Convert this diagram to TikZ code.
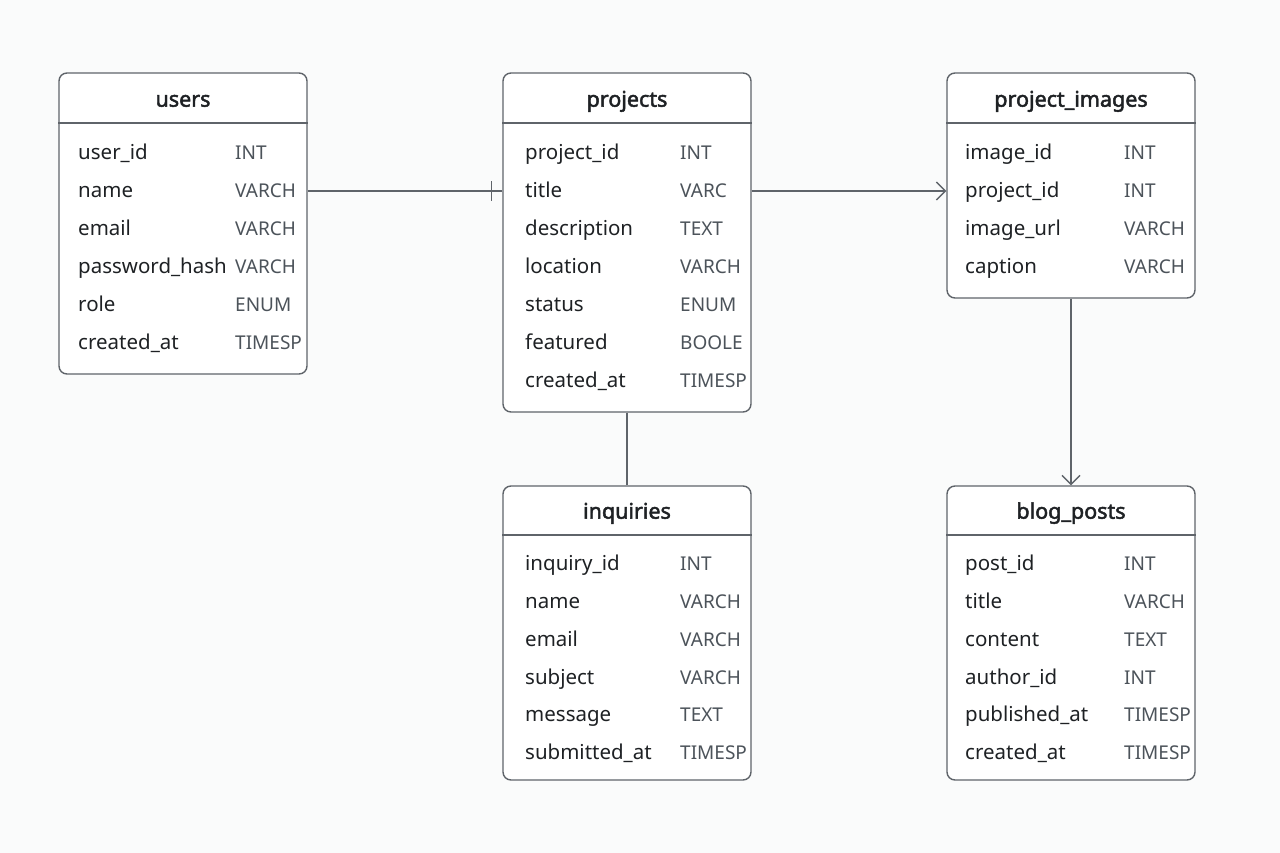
\documentclass[tikz,border=0pt]{standalone}
\usepackage{fontspec}
\setmainfont{Noto Sans}[AutoFakeBold=2.2]
\usetikzlibrary{arrows.meta}
\definecolor{bg}{HTML}{FAFBFB}
\definecolor{edge}{HTML}{5F646A}
\definecolor{ink}{HTML}{1E2124}
\definecolor{typeink}{HTML}{4C535A}
\begin{document}
\begin{tikzpicture}[x=1pt,y=-1pt,
  tbl/.style={draw=edge, line width=1.4pt, rounded corners=8pt, fill=white, minimum width=248pt, inner sep=0pt},
  ttl/.style={font=\fontsize{21.5}{24}\selectfont\bfseries, text=ink, inner sep=0pt, anchor=mid},
  fname/.style={font=\fontsize{20.5}{24}\selectfont, text=ink, inner sep=0pt, anchor=mid west},
  ftype/.style={font=\fontsize{19}{22}\selectfont, text=typeink, inner sep=0pt, anchor=mid west},
  rule/.style={draw=edge, line width=1.2pt},
  link/.style={draw=edge, line width=1.4pt},
  chev/.style={-{Straight Barb[length=9pt, width=18pt, line width=1.4pt]}}
]
\fill[bg] (0,0) rectangle (1280,853);
\useasboundingbox (0,0) rectangle (1280,853);

% ---- users ----
\node[tbl, minimum height=301pt] (users) at (183,223.5) {};
\node[ttl] (users-title) at (183,104) {users};
\draw[rule] (users.west |- 0,123) -- (users.east |- 0,123);
\foreach \n/\t [count=\i] in {user\_id/INT, name/VARCH, email/VARCH, password\_hash/VARCH, role/ENUM, created\_at/TIMESP}{
  \node[fname] (users-\i) at (78,{157+38*(\i-1)}) {\n};
  \node[ftype] (users-\i-t) at (235,{157+38*(\i-1)}) {\t};
}

% ---- projects ----
\node[tbl, minimum height=339pt] (projects) at (627,242.5) {};
\node[ttl] (projects-title) at (627,104) {projects};
\draw[rule] (projects.west |- 0,123) -- (projects.east |- 0,123);
\foreach \n/\t [count=\i] in {project\_id/INT, title/VARC, description/TEXT, location/VARCH, status/ENUM, featured/BOOLE, created\_at/TIMESP}{
  \node[fname] (projects-\i) at (525,{157+38*(\i-1)}) {\n};
  \node[ftype] (projects-\i-t) at (680,{157+38*(\i-1)}) {\t};
}

% ---- project_images ----
\node[tbl, minimum height=225pt] (images) at (1071,185.5) {};
\node[ttl] (images-title) at (1071,104) {project\_images};
\draw[rule] (images.west |- 0,123) -- (images.east |- 0,123);
\foreach \n/\t [count=\i] in {image\_id/INT, project\_id/INT, image\_url/VARCH, caption/VARCH}{
  \node[fname] (images-\i) at (965,{157+38*(\i-1)}) {\n};
  \node[ftype] (images-\i-t) at (1124,{157+38*(\i-1)}) {\t};
}

% ---- inquiries ----
\node[tbl, minimum height=294pt] (inquiries) at (627,633) {};
\node[ttl] (inquiries-title) at (627,516) {inquiries};
\draw[rule] (inquiries.west |- 0,535) -- (inquiries.east |- 0,535);
\foreach \n/\t [count=\i] in {inquiry\_id/INT, name/VARCH, email/VARCH, subject/VARCH, message/TEXT, submitted\_at/TIMESP}{
  \node[fname] (inquiries-\i) at (525,{568+37.8*(\i-1)}) {\n};
  \node[ftype] (inquiries-\i-t) at (680,{568+37.8*(\i-1)}) {\t};
}

% ---- blog_posts ----
\node[tbl, minimum height=294pt] (blog) at (1071,633) {};
\node[ttl] (blog-title) at (1071,516) {blog\_posts};
\draw[rule] (blog.west |- 0,535) -- (blog.east |- 0,535);
\foreach \n/\t [count=\i] in {post\_id/INT, title/VARCH, content/TEXT, author\_id/INT, published\_at/TIMESP, created\_at/TIMESP}{
  \node[fname] (blog-\i) at (965,{568+37.8*(\i-1)}) {\n};
  \node[ftype] (blog-\i-t) at (1124,{568+37.8*(\i-1)}) {\t};
}

% ---- relationships ----
\coordinate (rowline) at ([yshift=4pt]projects-2.mid);
\coordinate (tick) at ([xshift=-11pt]projects.west |- rowline);
\draw[link] (users.east |- rowline) -- (projects.west |- rowline);
\draw[link] ([yshift=-10pt]tick) -- ([yshift=10pt]tick);
\draw[link, chev] (projects.east |- rowline) -- (images.west |- rowline);
\draw[link, chev] (images.south) -- (blog.north);
\draw[link] (projects.south) -- (inquiries.north);
\end{tikzpicture}
\end{document}
